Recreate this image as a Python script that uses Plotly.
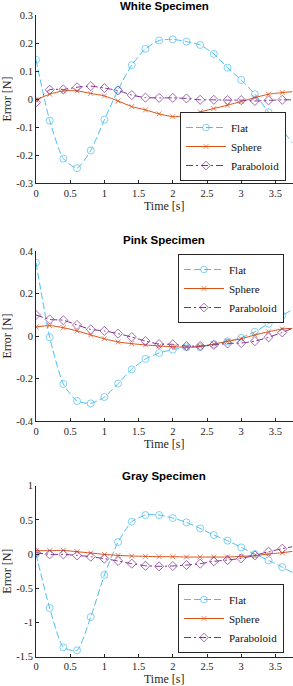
import plotly.graph_objects as go

t = [0, 0.2, 0.4, 0.6, 0.8, 1.0, 1.2, 1.4, 1.6, 1.8, 2.0, 2.2, 2.4, 2.6, 2.8, 3.0, 3.2, 3.4, 3.6, 3.75]

white_flat = [0.14, -0.077, -0.213, -0.247, -0.184, -0.074, 0.033, 0.121, 0.179, 0.209, 0.213, 0.205, 0.193, 0.161, 0.112, 0.068, 0.017, -0.047, -0.110, -0.157]
white_sphere = [-0.003, 0.017, 0.029, 0.029, 0.020, 0.011, -0.007, -0.027, -0.039, -0.053, -0.063, -0.059, -0.046, -0.034, -0.022, -0.009, 0.005, 0.017, 0.023, 0.026]
white_parab = [-0.012, 0.033, 0.034, 0.042, 0.046, 0.039, 0.030, 0.014, 0.005, 0.004, 0.004, 0.002, -0.003, -0.003, -0.004, -0.004, -0.007, -0.005, -0.003, -0.003]

pink_flat = [0.345, -0.006, -0.226, -0.306, -0.317, -0.287, -0.224, -0.157, -0.108, -0.080, -0.064, -0.053, -0.052, -0.039, -0.025, -0.008, 0.020, 0.058, 0.096, 0.125]
pink_sphere = [0.042, 0.049, 0.039, 0.024, 0.005, -0.013, -0.028, -0.036, -0.042, -0.047, -0.050, -0.053, -0.049, -0.038, -0.025, -0.013, 0.005, 0.020, 0.033, 0.036]
pink_parab = [0.099, 0.078, 0.074, 0.052, 0.031, 0.024, 0.011, -0.005, -0.024, -0.038, -0.039, -0.047, -0.047, -0.042, -0.035, -0.033, -0.024, -0.006, 0.017, 0.036]

gray_flat = [0.0, -0.788, -1.363, -1.407, -0.92, -0.306, 0.176, 0.474, 0.571, 0.571, 0.527, 0.464, 0.376, 0.279, 0.196, 0.098, 0.0, -0.092, -0.190, -0.272]
gray_sphere = [0.05, 0.05, 0.054, 0.035, 0.016, -0.004, -0.019, -0.028, -0.033, -0.038, -0.038, -0.043, -0.043, -0.043, -0.043, -0.033, -0.023, 0.001, 0.020, 0.040]
gray_parab = [0.02, -0.004, -0.004, -0.019, -0.038, -0.067, -0.101, -0.14, -0.17, -0.179, -0.174, -0.16, -0.14, -0.106, -0.087, -0.062, -0.019, 0.035, 0.079, 0.108]

titles = ["White Specimen", "Pink Specimen", "Gray Specimen"]
series_names = ["Flat", "Sphere", "Paraboloid"]

x_tickvals = [0, 0.5, 1, 1.5, 2, 2.5, 3, 3.5]
x_ticktext = ["0", "0.5", "1", "1.5", "2", "2.5", "3", "3.5"]
y_tickvals = [
    [-0.3, -0.2, -0.1, 0, 0.1, 0.2, 0.3],
    [-0.4, -0.2, 0, 0.2, 0.4],
    [-1.5, -1, -0.5, 0, 0.5, 1],
]
y_ticktext = [
    ["-0.3", "-0.2", "-0.1", "0", "0.1", "0.2", "0.3"],
    ["-0.4", "-0.2", "0", "0.2", "0.4"],
    ["-1.5", "-1", "-0.5", "0", "0.5", "1"],
]
y_ranges = [[-0.3, 0.3], [-0.4, 0.4], [-1.5, 1.0]]

data = [
    [white_flat, white_sphere, white_parab],
    [pink_flat, pink_sphere, pink_parab],
    [gray_flat, gray_sphere, gray_parab],
]

H = 686.0
W = 293.0
ydoms = [(15, 183), (251, 421), (485.7, 656.7)]
xdom = [36 / W, 292.5 / W]
title_y = [6, 240, 476]
# (right edge x, anchor y, yanchor)
legend_pos = [(286, 181, "bottom"), (284, 254, "top"), (284, 653, "bottom")]

colors = ["#4DBEEE", "#D95319", "#7E2F8E"]
symbols = ["circle-open", "x-thin-open", "diamond-open"]
dashes = ["7px,3px", "solid", "7px,3px,2px,3px"]
msize = [7, 5, 7]

serif = "'Liberation Serif', 'DejaVu Serif', serif"
axcol = "#262626"

fig = go.Figure()
layout = dict(
    width=293, height=686,
    margin=dict(l=0, r=0, t=0, b=0, autoexpand=False),
    paper_bgcolor="white", plot_bgcolor="white",
    showlegend=True,
    annotations=[],
)

for i in range(3):
    xa = "x" if i == 0 else f"x{i+1}"
    ya = "y" if i == 0 else f"y{i+1}"
    xkey = "xaxis" if i == 0 else f"xaxis{i+1}"
    ykey = "yaxis" if i == 0 else f"yaxis{i+1}"
    top, bot = ydoms[i]
    for j in range(3):
        sizes = [msize[j]] * (len(t) - 1) + [0]
        fig.add_trace(go.Scatter(
            x=t, y=data[i][j], name=series_names[j],
            xaxis=xa, yaxis=ya,
            mode="lines+markers",
            line=dict(color=colors[j], width=1, dash=dashes[j], shape="spline", smoothing=0.6),
            marker=dict(symbol=symbols[j], size=sizes, color=colors[j],
                        line=dict(color=colors[j], width=1)),
            legend="legend" if i == 0 else f"legend{i+1}",
            cliponaxis=True,
        ))
    layout[xkey] = dict(
        domain=xdom, anchor=ya, range=[0, 3.75], automargin=False,
        tickvals=x_tickvals, ticktext=x_ticktext,
        ticks="inside", ticklen=3, tickcolor=axcol,
        showline=True, linecolor=axcol, linewidth=1,
        showgrid=False, zeroline=False,
        tickfont=dict(family=serif, size=10.5, color=axcol),
        title=dict(text="Time [s]", font=dict(family=serif, size=12, color=axcol), standoff=4),
    )
    layout[ykey] = dict(
        domain=[1 - bot / H, 1 - top / H], anchor=xa, range=y_ranges[i], automargin=False,
        tickvals=y_tickvals[i], ticktext=y_ticktext[i],
        ticks="inside", ticklen=3, tickcolor=axcol,
        showline=True, linecolor=axcol, linewidth=1,
        showgrid=False, zeroline=False,
        tickfont=dict(family=serif, size=10.5, color=axcol),
        title=dict(text="Error [N]", font=dict(family=serif, size=12, color=axcol), standoff=2),
    )
    lx, ly, yanc = legend_pos[i]
    lkey = "legend" if i == 0 else f"legend{i+1}"
    layout[lkey] = dict(
        x=lx / W, y=1 - ly / H, xanchor="right", yanchor=yanc,
        bgcolor="white", bordercolor=axcol, borderwidth=1,
        font=dict(family=serif, size=11, color="#111111"),
        itemwidth=40, tracegroupgap=0,
    )
    layout["annotations"].append(dict(
        text="<b>" + titles[i] + "</b>", xref="paper", yref="paper",
        x=164 / W, y=1 - title_y[i] / H, xanchor="center", yanchor="middle",
        showarrow=False, font=dict(family="'Liberation Sans', Arial, sans-serif", size=11.5, color="black"),
    ))

fig.update_layout(**layout)
fig.write_html(
    "out.html",
    config={"displayModeBar": False},
    post_script="document.body.style.margin='0';document.body.style.overflow='hidden';",
)
